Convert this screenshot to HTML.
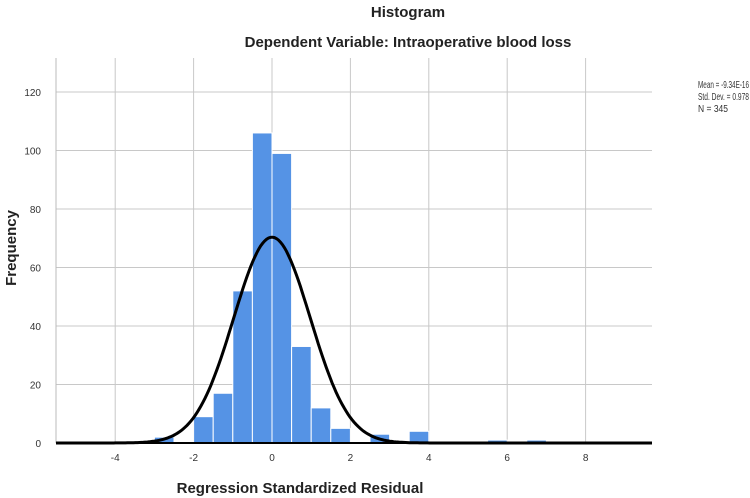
<!DOCTYPE html>
<html><head><meta charset="utf-8"><style>
body{margin:0;background:#fff;}
svg{display:block;font-family:"Liberation Sans",Arial,sans-serif;}
</style></head><body>
<svg id="chart" width="750" height="498">
<text x="408" y="17" text-anchor="middle" font-size="15" font-weight="bold" fill="#222">Histogram</text>
<text x="408" y="47" text-anchor="middle" font-size="15" font-weight="bold" fill="#222">Dependent Variable: Intraoperative blood loss</text>
<text x="698" y="88" font-size="10" fill="#333" textLength="51" lengthAdjust="spacingAndGlyphs">Mean = -9.34E-16</text>
<text x="698" y="100" font-size="10" fill="#333" textLength="51" lengthAdjust="spacingAndGlyphs">Std. Dev. = 0.978</text>
<text x="698" y="112" font-size="10" fill="#333" textLength="30" lengthAdjust="spacingAndGlyphs">N = 345</text>
<text transform="translate(16,248) rotate(-90)" text-anchor="middle" font-size="15" font-weight="bold" fill="#222">Frequency</text>
<text x="300" y="493" text-anchor="middle" font-size="15" font-weight="bold" fill="#222">Regression Standardized Residual</text>
<g id="grid"></g><g id="bars"></g><g id="axes"></g>
</svg>
<script>
const binStarts=[-3,-2.5,-2,-1.5,-1,-0.5,0,0.5,1,1.5,2,2.5,3,3.5,4,4.5,5,5.5,6,6.5];
const counts=[2,0,9,17,52,106,99,33,12,5,0,3,0,4,0,0,0,1,0,1];
const binWidth=0.5;
const xTicks=[-4,-2,0,2,4,6,8];
const yTicks=[0,20,40,60,80,100,120];
const meanVal=0, sdVal=0.978, nVal=345;
const NS='http://www.w3.org/2000/svg';
const L=56,R=652,T=58,B=443;
const xs=v=>272+(v)*39.2;
const ys=v=>B-v*2.925;
function mk(tag,attrs,parent){const e=document.createElementNS(NS,tag);for(const k in attrs)e.setAttribute(k,attrs[k]);parent.appendChild(e);return e;}
const grid=document.getElementById('grid'),bars=document.getElementById('bars'),axes=document.getElementById('axes');
yTicks.forEach(t=>{if(t===0)return;
 const l=mk('line',{x1:L,x2:R,y1:ys(t),y2:ys(t),stroke:'#c8c8c8','stroke-width':1},grid);
 
 });
yTicks.forEach(t=>{const tx=mk('text',{x:41,y:ys(t)+4,'text-anchor':'end','font-size':10,fill:'#333'},axes);tx.textContent=t;
 
 });
xTicks.forEach(t=>{const l=mk('line',{x1:xs(t),x2:xs(t),y1:T,y2:B,stroke:'#c8c8c8','stroke-width':1},grid);
 
 
 const tx=mk('text',{x:xs(t),y:B+18,'text-anchor':'middle','font-size':10,fill:'#333'},axes);tx.textContent=t;
 
 });
binStarts.forEach((s,i)=>{if(!counts[i])return;
 const x0=xs(s),x1=xs(s+binWidth);
 const r=mk('rect',{x:x0,y:ys(counts[i]),width:x1-x0,height:B-ys(counts[i]),fill:'#5593e5',stroke:'#fff','stroke-width':1},bars);
 
 });
const ax=mk('line',{x1:L,x2:L,y1:T,y2:B,stroke:'#bbb','stroke-width':1},axes);


const bl=mk('line',{x1:L,x2:R,y1:B,y2:B,stroke:'#000','stroke-width':2},axes);


let d='';const x0v=(L-272)/39.2,x1v=(R-272)/39.2;
for(let k=0;k<=300;k++){const v=x0v+(x1v-x0v)*k/300;
 const y=nVal*binWidth*Math.exp(-0.5*Math.pow((v-meanVal)/sdVal,2))/(sdVal*Math.sqrt(2*Math.PI));
 d+=(k?'L':'M')+xs(v).toFixed(1)+','+ys(y).toFixed(1);}
const c=mk('path',{d:d,fill:'none',stroke:'#000','stroke-width':3},axes);


</script>
</body></html>
